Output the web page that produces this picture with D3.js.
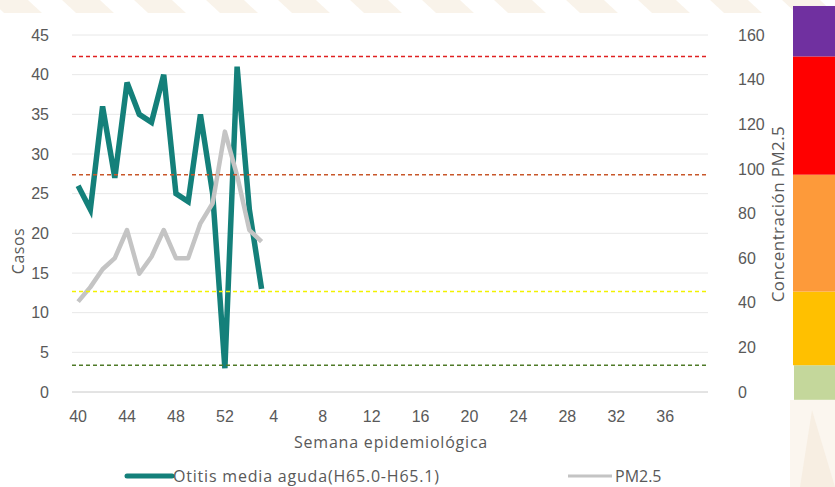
<!DOCTYPE html>
<html>
<head>
<meta charset="utf-8">
<script src="https://cdn.jsdelivr.net/npm/d3@7"></script>
<style>
  body { margin: 0; background: #fff; }
  svg { display: block; font-family: "Open Sans", sans-serif; }
</style>
</head>
<body>
<svg id="chart" width="835" height="487"></svg>
<script>
// data {{{ //
const weeks = [40, 41, 42, 43, 44, 45, 46, 47, 48, 49, 50, 51, 52,
  1, 2, 3, 4, 5, 6, 7, 8, 9, 10, 11, 12, 13, 14, 15, 16, 17, 18, 19, 20,
  21, 22, 23, 24, 25, 26, 27, 28, 29, 30, 31, 32, 33, 34, 35, 36, 37, 38, 39];
const xTickLabels = [40, 44, 48, 52, 4, 8, 12, 16, 20, 24, 28, 32, 36];
const otitis = [26, 23, 36, 27, 39, 35, 34, 40, 25, 24, 35, 25, 3, 41, 23, 13];
const pm25 = [40.5, 47, 55, 60, 72.6, 53, 60.6, 72.6, 60, 60, 75.6, 84.6, 116.7, 97, 72.6, 67.4];
const leftTicks = [0, 5, 10, 15, 20, 25, 30, 35, 40, 45];
const rightTicks = [0, 20, 40, 60, 80, 100, 120, 140, 160];
// PM2.5 quality thresholds (right axis)
const thresholds = [12, 45, 97.4, 150.4];
const thresholdColors = ["#4f7a28", "#f2f200", "#c8572a", "#e02020"];
const bandEdges = [-3.5, 12, 45, 97.4, 150.4, 173];
const bandColors = ["#c4d79b", "#ffc000", "#fd9a3a", "#ff0000", "#7030a0"];
// }}} data //

const svg = d3.select("#chart");
const margin = {left: 72, right: 127, top: 35, bottom: 95};
const W = 835, H = 487;

// soft shadow for the PM2.5 line
const defs = svg.append("defs");
defs.append("filter").attr("id", "soft")
  .attr("x", "-10%").attr("y", "-10%").attr("width", "120%").attr("height", "120%")
  .append("feGaussianBlur").attr("stdDeviation", 0.7);

// background decoration {{{ //
const deco = svg.append("g").attr("fill", "#f8f1e6").attr("opacity", 0.8);
for (let i = 0; i < 12; i++) {
  const x0 = -10 + i * 72;
  deco.append("path").attr("d", `M${x0},0 L${x0 + 38},0 L${x0 + 52},13 L${x0 + 14},13 Z`);
}
deco.append("rect").attr("x", 0).attr("y", 13).attr("width", 790).attr("height", H).attr("fill", "#fff").attr("opacity", 1);
svg.append("path").attr("d", "M790,400 L835,400 L835,487 L790,487 Z").attr("fill", "#fbf6ef");
svg.append("path").attr("d", "M800,487 L812,410 L835,487 Z").attr("fill", "#f7eee2");
// }}} background decoration //

const x = d3.scaleBand().domain(weeks).range([margin.left, W - margin.right]);
const cx = w => x(w) + x.bandwidth() / 2;
const yL = d3.scaleLinear().domain([0, 45]).range([H - margin.bottom, margin.top]);
const yR = d3.scaleLinear().domain([0, 160]).range([H - margin.bottom, margin.top]);

// grid {{{ //
svg.append("g")
  .selectAll("line")
  .data(leftTicks)
  .enter().append("line")
  .attr("x1", margin.left).attr("x2", W - margin.right)
  .attr("y1", d => yL(d)).attr("y2", d => yL(d))
  .attr("stroke", d => d === 0 ? "#c8c8c8" : "#e8e8e8")
  .attr("stroke-width", 1);
// }}} grid //

// axes {{{ //
const tickStyle = g => {
  g.select(".domain").remove();
  g.selectAll(".tick line").remove();
  g.selectAll(".tick text").attr("fill", "#595959").style("font-size", "16px");
};

svg.append("g")
  .attr("transform", `translate(${margin.left - 20},0)`)
  .call(d3.axisLeft(yL).tickValues(leftTicks).tickSize(0))
  .call(tickStyle);

svg.append("g")
  .attr("transform", `translate(${W - margin.right + 27},0)`)
  .call(d3.axisRight(yR).tickValues(rightTicks).tickSize(0))
  .call(tickStyle);

svg.append("g")
  .attr("transform", `translate(0,${H - margin.bottom + 13})`)
  .call(d3.axisBottom(x).tickValues(xTickLabels).tickSize(0))
  .call(tickStyle)
  .selectAll(".tick text").attr("dy", "0.9em");

svg.append("text")
  .attr("transform", "translate(24,251) rotate(-90)")
  .attr("text-anchor", "middle")
  .attr("fill", "#595959").style("font-size", "16px")
  .style("letter-spacing", "0.5px")
  .text("Casos");

svg.append("text")
  .attr("transform", "translate(784,214) rotate(-90)")
  .attr("text-anchor", "middle")
  .attr("fill", "#595959").style("font-size", "17px")
  .style("letter-spacing", "0.4px")
  .text("Concentración PM2.5");

svg.append("text")
  .attr("x", 391).attr("y", 448)
  .attr("text-anchor", "middle")
  .attr("fill", "#595959").style("font-size", "16px")
  .style("letter-spacing", "0.8px")
  .text("Semana epidemiológica");
// }}} axes //

// lines {{{ //
const lineL = d3.line().x((d, i) => cx(weeks[i])).y(d => yL(d));
const lineR = d3.line().x((d, i) => cx(weeks[i])).y(d => yR(d));

svg.append("path")
  .datum(otitis)
  .attr("d", lineL)
  .attr("fill", "none")
  .attr("stroke", "#14807a")
  .attr("stroke-width", 5.5)
  .attr("stroke-linejoin", "miter");

svg.append("path")
  .datum(pm25)
  .attr("d", lineR)
  .attr("fill", "none")
  .attr("stroke", "#c4c4c4")
  .attr("stroke-width", 4.5)
  .attr("stroke-linejoin", "round")
  .attr("filter", "url(#soft)");
// }}} lines //

// threshold lines {{{ //
svg.append("g")
  .selectAll("line")
  .data(thresholds)
  .enter().append("line")
  .attr("x1", margin.left).attr("x2", W - margin.right)
  .attr("y1", d => yR(d)).attr("y2", d => yR(d))
  .attr("stroke", (d, i) => thresholdColors[i])
  .attr("stroke-width", 1.5)
  .attr("stroke-dasharray", "4,3");
// }}} threshold lines //

// colour bar {{{ //
svg.append("g")
  .selectAll("rect")
  .data(bandColors)
  .enter().append("rect")
  .attr("x", (d, i) => i === 0 ? 794 : 793)
  .attr("width", 42)
  .attr("y", (d, i) => yR(bandEdges[i + 1]))
  .attr("height", (d, i) => yR(bandEdges[i]) - yR(bandEdges[i + 1]))
  .attr("fill", d => d);
// }}} colour bar //

// legend {{{ //
const legend = svg.append("g").style("font-size", "16px").attr("fill", "#595959");
legend.append("line").attr("x1", 127).attr("x2", 172).attr("y1", 476).attr("y2", 476)
  .attr("stroke", "#14807a").attr("stroke-width", 5).attr("stroke-linecap", "round");
legend.append("text").attr("x", 173).attr("y", 482)
  .attr("textLength", 266).attr("lengthAdjust", "spacing")
  .text("Otitis media aguda(H65.0-H65.1)");
legend.append("line").attr("x1", 568).attr("x2", 612).attr("y1", 476).attr("y2", 476)
  .attr("stroke", "#c4c4c4").attr("stroke-width", 3);
legend.append("text").attr("x", 615).attr("y", 482).text("PM2.5");
// }}} legend //
</script>
</body>
</html>
